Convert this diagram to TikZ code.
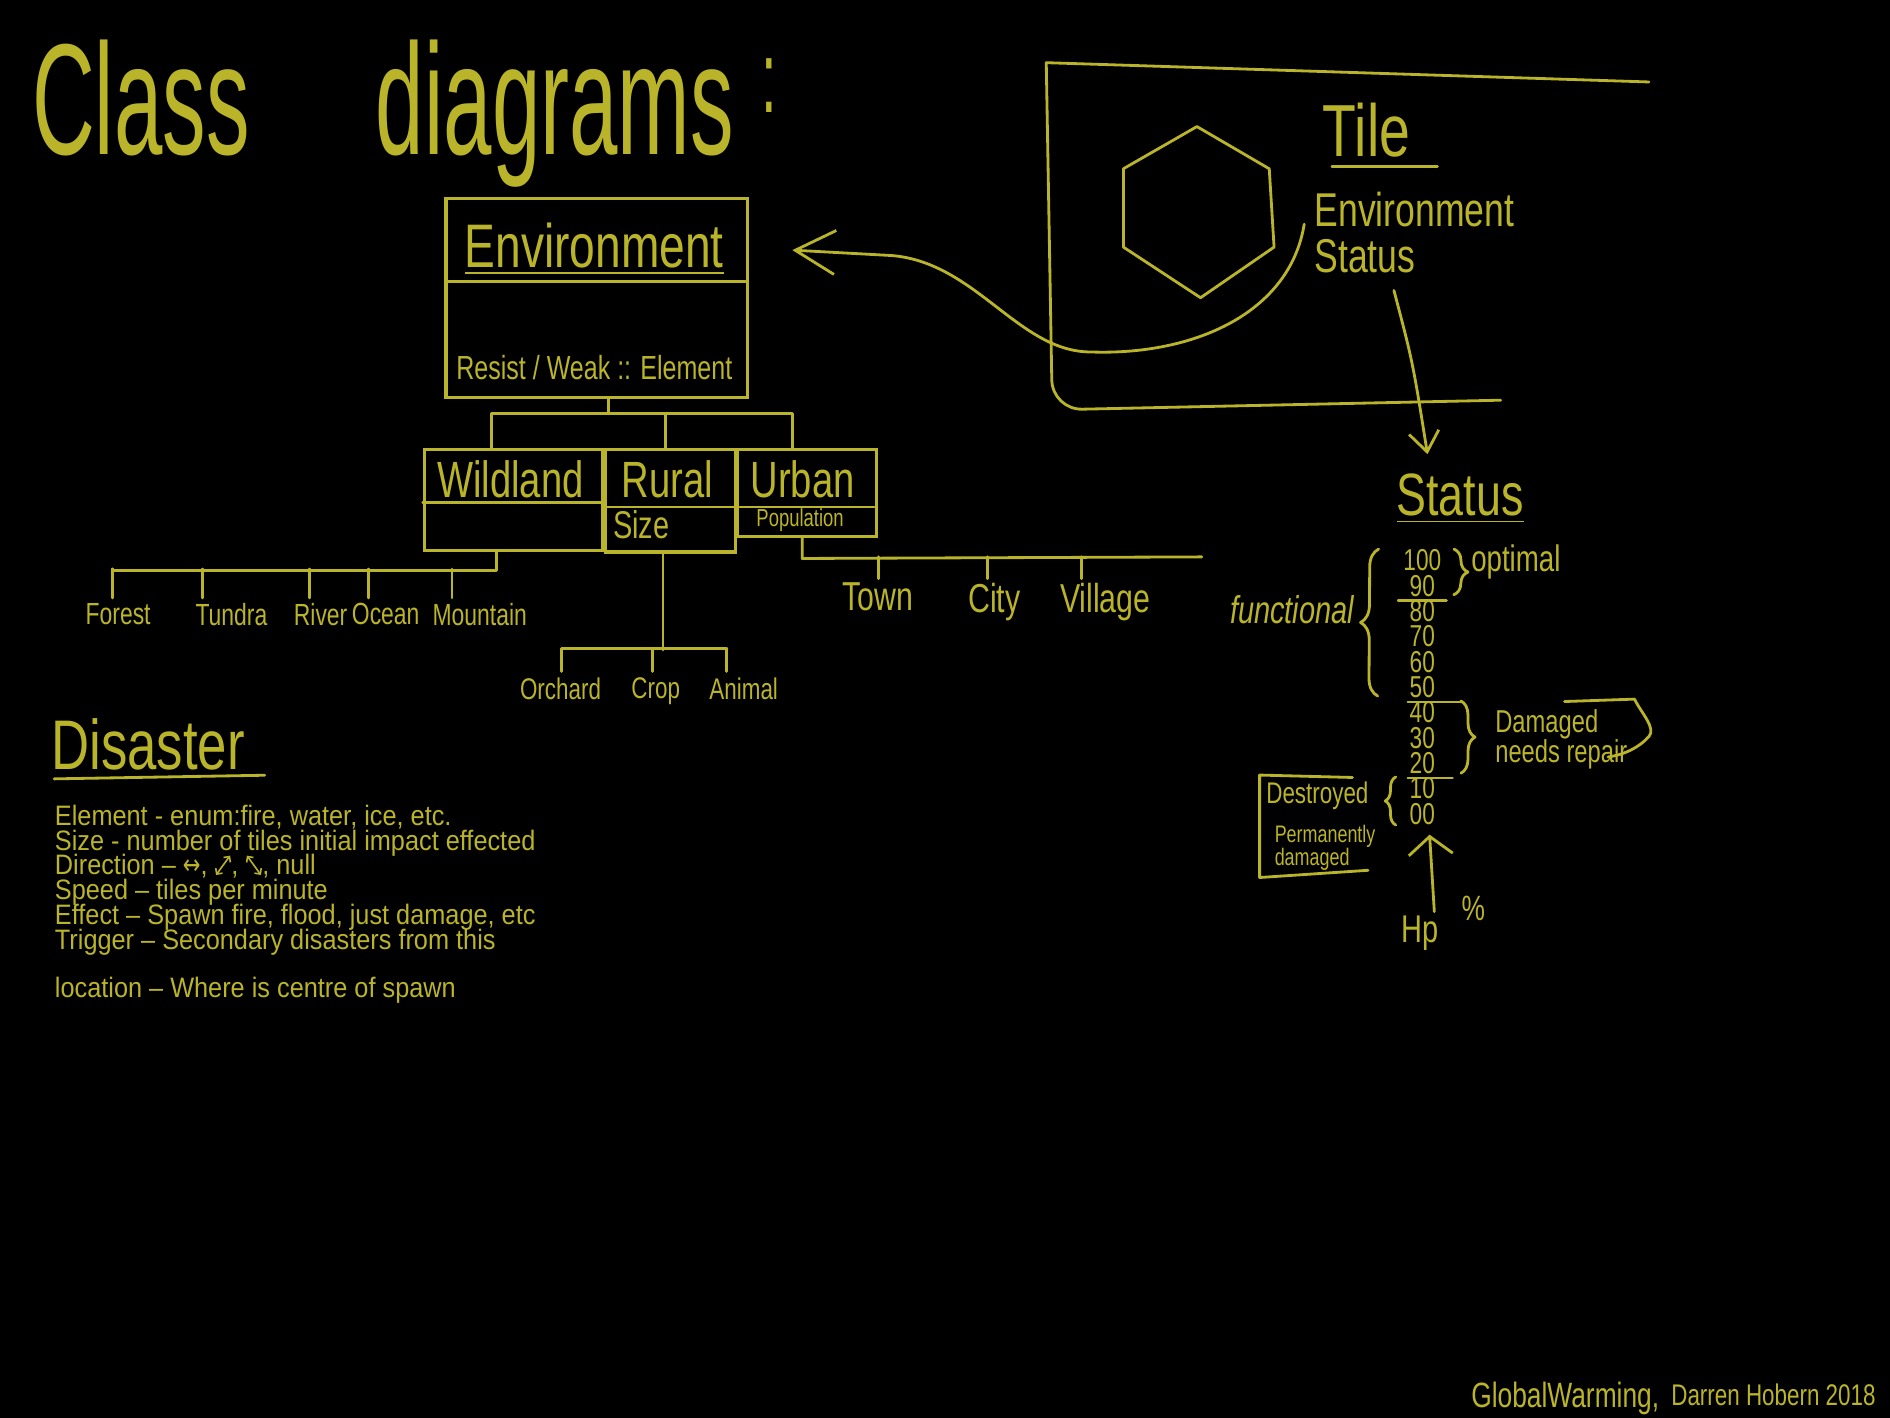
\documentclass[tikz,border=0pt]{standalone}
\usepackage{fontspec}
\setmainfont{Liberation Sans}
\newfontfamily\elyazifont{Liberation Sans}[FakeStretch=0.75]
\newfontfamily\genisfont{Liberation Sans}[FakeStretch=0.9]
\newfontfamily\baslikfont{Liberation Sans}[FakeStretch=0.55]
\newfontfamily\okfont{DejaVu Sans}[FakeStretch=0.75]
\usetikzlibrary{arrows.meta,calc,decorations.pathreplacing}
\definecolor{tebesir}{HTML}{BAB42A}
\newcommand{\px}{0.12054mm}
\newcommand{\elyazi}[2]{\elyazifont\fontsize{#1}{#2}\selectfont\lineskiplimit=-100pt}
\newcommand{\genisyazi}[2]{\genisfont\fontsize{#1}{#2}\selectfont\lineskiplimit=-100pt}
\tikzset{
  kalem/.style={draw=tebesir, line width=0.8pt, line cap=round, line join=round},
  sinif/.style={draw=tebesir, line width=0.9pt, inner sep=0pt},
  yazi/.style={text=tebesir, inner sep=0pt},
  kirlangic/.style={decorate, decoration={brace, amplitude=#1}},
  caprazok/.style={draw=tebesir, line width=0.45pt,
    {Straight Barb[length=1.2pt,width=2.4pt]}-{Straight Barb[length=1.2pt,width=2.4pt]}},
}
% capraz iki yonlu oklar
\newcommand{\okSagUst}{\tikz[baseline=0pt]\draw[caprazok] (0pt,0pt) -- (4pt,5.5pt);}
\newcommand{\okSolUst}{\tikz[baseline=0pt]\draw[caprazok] (0pt,5.5pt) -- (4pt,0pt);}

\begin{document}
\begin{tikzpicture}[x=0.12054mm,y=-0.12054mm]
\useasboundingbox (0,0) rectangle (1568,1176);
\fill[black] (0,0) rectangle (1568,1176);

% baslik
\node[yazi, font=\baslikfont\fontsize{45}{45}\selectfont, anchor=base west] (baslik) at (26,128)
  {Class\hspace{36pt}diagrams\hspace{8pt}\raisebox{12pt}{\fontsize{29}{29}\selectfont :}};

% Environment sinifi
\node[sinif, minimum width=250*\px, minimum height=165*\px] (env) at (495,247.5) {};
\node[yazi, font=\elyazi{17.5}{17.5}, anchor=base west] (envname) at (385,222) {\underline{Environment}};
\draw[kalem] ([shift={(3,70)}]env.north west) -- ([shift={(-3,70)}]env.north east);
\node[yazi, font=\elyazi{9.5}{9.5}, anchor=base west] (envattr) at (378,315) {Resist / Weak :: Element};

% alt siniflar
\node[sinif, minimum width=148*\px, minimum height=84*\px] (wild) at (426,415) {};
\node[sinif, minimum width=108*\px, minimum height=85*\px] (rural) at (556,415.5) {};
\node[sinif, minimum width=115*\px, minimum height=72*\px] (urban) at (669.5,409) {};
\draw[kalem] ([shift={(0,45)}]wild.north west) -- ([shift={(0,45)}]wild.north east);
\draw[kalem] ([shift={(0,49)}]rural.north west) -- ([shift={(0,49)}]rural.north east);
\draw[kalem] ([shift={(3,49)}]urban.north west) -- ([shift={(-3,49)}]urban.north east);
\node[yazi, font=\elyazi{14.5}{14.5}, anchor=base west] (wildname) at (362,413) {Wildland};
\node[yazi, font=\elyazi{14.5}{14.5}, anchor=base west] (ruralname) at (515,413) {Rural};
\node[yazi, font=\elyazi{14.5}{14.5}, anchor=base west] (urbanname) at (622,413) {Urban};
\node[yazi, font=\elyazi{11}{11}, anchor=base west] (ruralattr) at (508,447) {Size};
\node[yazi, font=\elyazi{7}{7}, anchor=base west] (urbanattr) at (627,437) {Population};

% kalitim
\coordinate (hub) at ([shift={(10,12)}]env.south);
\draw[kalem] ([shift={(10,0)}]env.south) -- (hub);
\draw[kalem] ([shift={(-18,0)}]wild.north) |- (hub) -| ([shift={(-12,0)}]urban.north);
\draw[kalem] ([shift={(-4,0)}]rural.north) |- (hub);

% Wildland turleri
\foreach \ad/\lx/\dd in {Forest/98/-5, Tundra/192/-24, River/266/-9, Ocean/320/-14, Mountain/398/-23}{
  \node[yazi, font=\elyazi{8.7}{8.7}, anchor=north] (w\ad) at (\lx,500) {\ad};
  \draw[kalem] ([shift={(\dd,-4)}]w\ad.north) -- ++(0,-24);
}
\draw[kalem] ([shift={(-14,0)}]wild.south) -- ++(0,15) -| ([shift={(-5,-28)}]wForest.north);

% Rural turleri
\draw[kalem] ([shift={(-6,0)}]rural.south) -- ++(0,80) coordinate (rhub);
\foreach \ad/\lx/\dd in {Orchard/465/1, Crop/544/-3, Animal/617/-14}{
  \node[yazi, font=\elyazi{8.5}{8.5}, anchor=north] (r\ad) at (\lx,562) {\ad};
  \draw[kalem] ([shift={(\dd,-5)}]r\ad.north) -- ++(0,-19);
}
\draw[kalem] ([shift={(1,-24)}]rOrchard.north) -- ([shift={(-14,-24)}]rAnimal.north);

% Urban turleri
\coordinate (uend) at (997,462);
\draw[kalem] ([shift={(-4,0)}]urban.south) -- ++(0,17) -- (uend);
\foreach \ad/\lx/\dd in {Town/728/1, City/825/-6, Village/917/-20}{
  \node[yazi, font=\elyazi{11.5}{11.5}, anchor=north] (u\ad) at (\lx,483) {\ad};
  \draw[kalem] ([shift={(\dd,-3)}]u\ad.north) -- ++(0,-18);
}

% Tile
\draw[kalem] (1368,68) -- (868,52) [rounded corners=3mm] -- (873,340) -- (1245,332);
\draw[kalem] (993,105) -- (1053,140) -- (1057,205) -- (996,247) -- (932,205) -- (932,140) -- cycle;
\node[yazi, font=\elyazi{21}{21}, anchor=base west] (tilename) at (1097,130) {Tile};
\draw[kalem] ([shift={(8,8)}]tilename.base west) -- ([shift={(22,8)}]tilename.base east);
\node[yazi, font=\elyazi{13.5}{13.5}, anchor=base west] (tenv) at (1090,188) {Environment};
\node[yazi, font=\elyazi{13.5}{13.5}, anchor=base west] (tstat) at (1090,226) {Status};
\draw[kalem, -{Straight Barb[length=4mm,width=4.4mm]}] ([shift={(-8,-2)}]tenv.base west)
  .. controls (1070,260) and (990,295) .. (905,292)
  .. controls (845,292) and (810,218) .. (740,212) -- ([shift={(36,-40)}]env.east);

% Status
\node[yazi, font=\elyazi{17}{17}, anchor=base west] (status) at (1158,428) {\underline{Status}};
\draw[kalem, -{Straight Barb[length=2mm,width=3mm]}] ([shift={(24,14)}]tstat.south)
  .. controls (1172,300) .. ([shift={(-27,-16)}]status.north);
\foreach \v [count=\i from 0] in {100,90,80,70,60,50,40,30,20,10,00}
  \node[yazi, font=\elyazi{8.6}{8.6}] (n\v) at (1180,{465+21*\i}) {\v};
\draw[kalem] ([shift={(-9,3)}]n90.south west) -- ([shift={(9,3)}]n90.south east);
\draw[kalem] ([shift={(-1,3)}]n50.south west) -- ([shift={(21,3)}]n50.south east);
\draw[kalem] ([shift={(-1,3)}]n20.south west) -- ([shift={(14,3)}]n20.south east);
\draw[kalem, kirlangic=4pt] ([shift={(10,0)}]n100.north east) -- ([shift={(15,-2)}]n90.south east);
\draw[kalem, kirlangic=5pt] ([shift={(-26,-2)}]n50.south west) -- ([shift={(-20,0)}]n100.north west);
\draw[kalem, kirlangic=4pt] ([shift={(21,0)}]n40.north east) -- ([shift={(21,-1)}]n20.south east);
\draw[kalem, kirlangic=3pt] ([shift={(-11,0)}]n00.south west) -- ([shift={(-11,0)}]n10.north west);
\node[yazi, font=\elyazi{10.5}{10.5}, anchor=base west] (optimal) at (1220,474) {optimal};
\node[yazi, font={\elyazi{11}{11}\itshape}, anchor=base east] (functional) at (1124,517) {functional};
\node[yazi, font=\elyazi{9}{8.6}, align=left, anchor=north west] (damaged) at (1240,588) {Damaged\\needs repair};
\draw[kalem] (1298,582) -- (1356,580) .. controls (1362,592) and (1374,604) .. (1368,611)
  .. controls (1360,620) and (1348,626) .. (1334,628);
\draw[kalem] (1122,645) -- (1045,643) -- (1045,728) -- (1135,722);
\node[yazi, font=\elyazi{8.5}{8.5}, anchor=base west] (destroyed) at (1050,667) {Destroyed};
\node[yazi, font=\elyazi{6.8}{6.5}, align=left, anchor=north west] (perm) at (1057,684) {Permanently\\damaged};
\node[yazi, font=\elyazi{11}{11}, anchor=base west] (hp) at (1162,782) {Hp};
\node[yazi, font=\elyazi{10}{10}, anchor=base west] (yuzde) at (1212,764) {\%};
\draw[kalem, -{Straight Barb[length=1.8mm,width=4.4mm]}] ([shift={(12,-3)}]hp.north) -- ([shift={(6,8)}]n00.south);

% Disaster
\node[yazi, font=\elyazi{20}{20}, anchor=base west] (disaster) at (42,638) {Disaster};
\draw[kalem] ([shift={(3,7)}]disaster.south west) -- ([shift={(16,4)}]disaster.south east);
\node[yazi, font=\genisyazi{8}{7.1}, align=left, anchor=north west] (ozellik) at (45,667)
  {Element - enum:fire, water, ice, etc.\\
   Size - number of tiles initial impact effected\\
   Direction – {\okfont ↔}, \okSagUst, \okSolUst, null\\
   Speed – tiles per minute\\
   Effect – Spawn fire, flood, just damage, etc\\
   Trigger – Secondary disasters from this\\[6.6pt]
   location – Where is centre of spawn};

% imza
\node[yazi, font=\elyazi{10}{10}, anchor=base west] (proje) at (1220,1168) {GlobalWarming,};
\node[yazi, font=\elyazi{8.5}{8.5}, anchor=base west] (yazar) at (1386,1166) {Darren Hobern 2018};
\end{tikzpicture}
\end{document}
